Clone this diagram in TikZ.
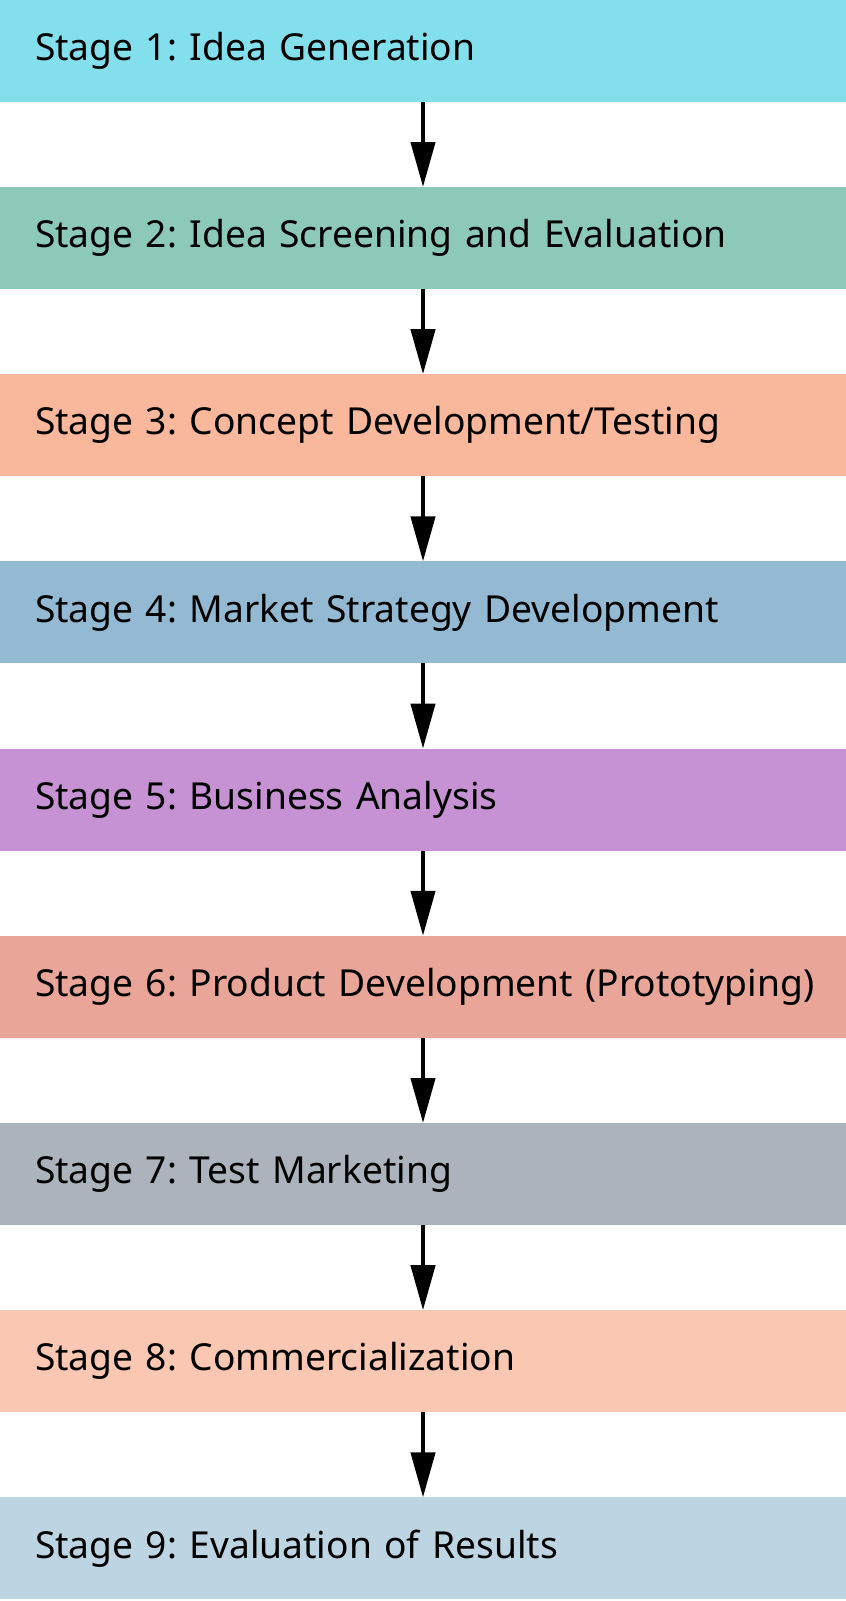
\documentclass[tikz,border=0pt]{standalone}
\usepackage{fontspec}
\setmainfont{Noto Sans}
\usetikzlibrary{arrows.meta}
\definecolor{c1}{HTML}{84DFED}
\definecolor{c2}{HTML}{8DC9B9}
\definecolor{c3}{HTML}{F9B89B}
\definecolor{c4}{HTML}{93BAD2}
\definecolor{c5}{HTML}{C692D3}
\definecolor{c6}{HTML}{E8A598}
\definecolor{c7}{HTML}{ACB3BC}
\definecolor{c8}{HTML}{F9C7B2}
\definecolor{c9}{HTML}{BDD4E2}
\newcommand{\stagetxt}[1]{\mbox{#1}}
\tikzset{
  stagebox/.style={draw=none, minimum width=846pt, minimum height=102pt, inner xsep=35pt, inner ysep=0pt, outer sep=0pt,
    text width=776pt, align=left, font=\fontsize{37.2pt}{45pt}\selectfont\frenchspacing, anchor=north},
  flowarrow/.style={line width=4.3pt, -{Triangle[length=45pt,width=24pt]}}
}
\begin{document}
\begin{tikzpicture}[x=1pt,y=1pt]
\useasboundingbox (0,0) rectangle (846,-1601);
\node[stagebox, fill=c1] (s1) at (423,0) {\stagetxt{Stage 1: Idea Generation}};
\node[stagebox, fill=c2] (s2) at (423,-187) {\stagetxt{Stage 2: Idea Screening and Evaluation}};
\node[stagebox, fill=c3] (s3) at (423,-374.2) {\stagetxt{Stage 3: Concept Development/Testing}};
\node[stagebox, fill=c4] (s4) at (423,-561.4) {\stagetxt{Stage 4: Market Strategy Development}};
\node[stagebox, fill=c5] (s5) at (423,-748.6) {\stagetxt{Stage 5: Business Analysis}};
\node[stagebox, fill=c6] (s6) at (423,-935.8) {\stagetxt{Stage 6: Product Development (Prototyping)}};
\node[stagebox, fill=c7] (s7) at (423,-1123) {\stagetxt{Stage 7: Test Marketing}};
\node[stagebox, fill=c8] (s8) at (423,-1310.2) {\stagetxt{Stage 8: Commercialization}};
\node[stagebox, fill=c9] (s9) at (423,-1497.4) {\stagetxt{Stage 9: Evaluation of Results}};
\foreach \a/\b in {s1/s2,s2/s3,s3/s4,s4/s5,s5/s6,s6/s7,s7/s8,s8/s9}
  \draw[flowarrow] (\a.south) -- (\b.north);
\end{tikzpicture}
\end{document}
